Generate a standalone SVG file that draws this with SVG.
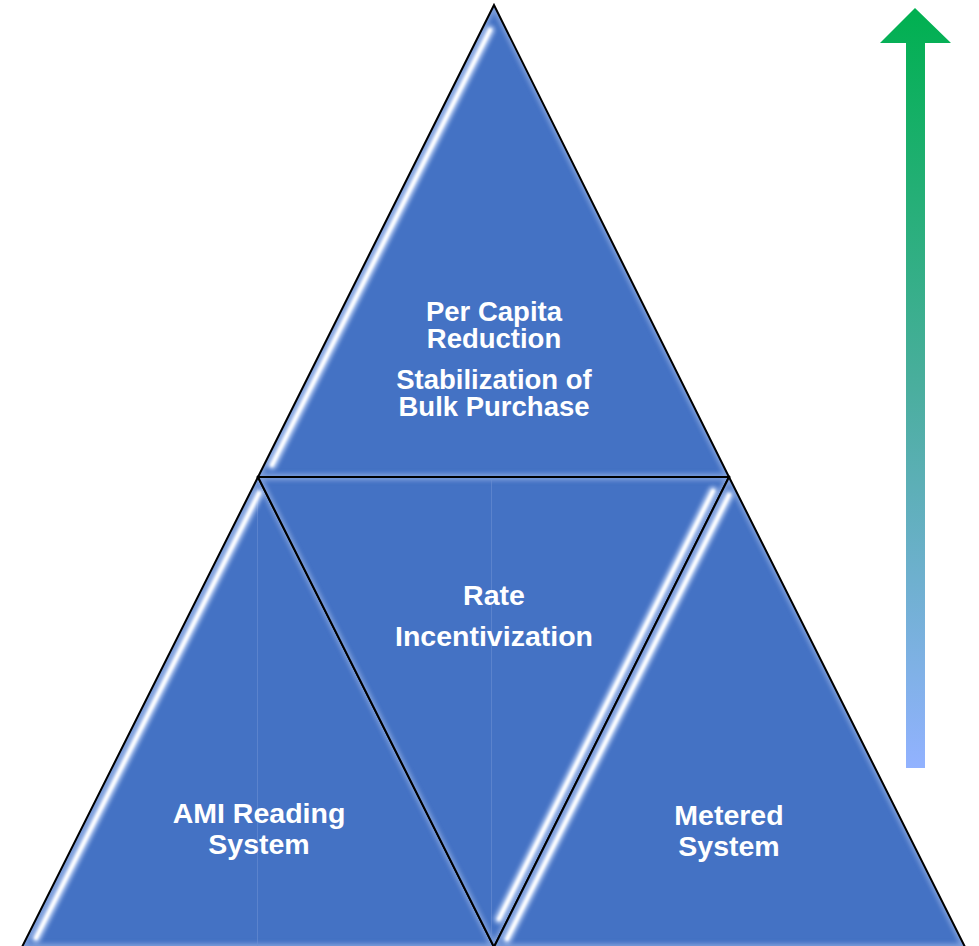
<svg xmlns="http://www.w3.org/2000/svg" width="979" height="946" viewBox="0 0 979 946">
  <defs>
    <style>
      .tri { fill: #4472c4; }
      .edge { fill: none; stroke: #000; stroke-width: 2; stroke-linejoin: miter; }
      .glow { fill: none; stroke: #a9c0ec; stroke-width: 7; opacity: 0.55; filter: url(#soft2); }
      .hl-outer { fill: none; stroke: #d6e4ff; stroke-width: 9; stroke-linecap: round; opacity: 0.85; filter: url(#soft2); }
      .hl-inner { fill: none; stroke: #ffffff; stroke-width: 3.5; stroke-linecap: round; filter: url(#soft1); }
      .seam { stroke: #6b8fd3; stroke-width: 1; opacity: 0.6; }
      .lbl { font-family: "Liberation Sans", Arial, sans-serif; font-weight: bold; fill: #ffffff; text-anchor: middle; }
    </style>
    <filter id="soft1" x="-20%" y="-20%" width="140%" height="140%">
      <feGaussianBlur stdDeviation="0.9"/>
    </filter>
    <filter id="soft2" x="-20%" y="-20%" width="140%" height="140%">
      <feGaussianBlur stdDeviation="2"/>
    </filter>
    <linearGradient id="arrowGrad" x1="0" y1="8" x2="0" y2="768" gradientUnits="userSpaceOnUse">
      <stop offset="0" stop-color="#00b050"/>
      <stop offset="0.5" stop-color="#4aae9e"/>
      <stop offset="1" stop-color="#92b2ff"/>
    </linearGradient>
    <clipPath id="cTop"><polygon points="494,5 258,477 729,477"/></clipPath>
    <clipPath id="cLeft"><polygon points="258,477 22,947 494,947"/></clipPath>
    <clipPath id="cMid"><polygon points="258,477 729,477 494,947"/></clipPath>
    <clipPath id="cRight"><polygon points="729,477 494,947 965,947"/></clipPath>
  </defs>

  <rect width="979" height="946" fill="#ffffff"/>

  <g id="node-top">
    <polygon class="tri" points="494,5 258,477 729,477"/>
    <g clip-path="url(#cTop)"><polygon class="glow" points="494,5 258,477 729,477"/></g>
    <line class="hl-outer" x1="490" y1="30" x2="272" y2="465"/>
    <line class="hl-inner" x1="490" y1="30" x2="272" y2="465"/>
    <polygon class="edge" points="494,5 258,477 729,477"/>
    <text class="lbl" font-size="27.5" x="494" y="321">Per Capita</text>
    <text class="lbl" font-size="27.5" x="494" y="348">Reduction</text>
    <text class="lbl" font-size="27.5" x="494" y="389">Stabilization of</text>
    <text class="lbl" font-size="27.5" x="494" y="416">Bulk Purchase</text>
  </g>

  <g id="node-left">
    <polygon class="tri" points="258,477 22,947 494,947"/>
    <g clip-path="url(#cLeft)"><polygon class="glow" points="258,477 22,947 494,947"/></g>
    <line class="seam" x1="257.5" y1="480" x2="257.5" y2="946"/>
    <line class="hl-outer" x1="259" y1="493" x2="36" y2="938"/>
    <line class="hl-inner" x1="259" y1="493" x2="36" y2="938"/>
    <polygon class="edge" points="258,477 22,947 494,947"/>
    <text class="lbl" font-size="28.5" x="259" y="823">AMI Reading</text>
    <text class="lbl" font-size="28.5" x="259" y="854">System</text>
  </g>

  <g id="node-middle">
    <polygon class="tri" points="258,477 729,477 494,947"/>
    <g clip-path="url(#cMid)"><polygon class="glow" points="258,477 729,477 494,947"/></g>
    <line class="seam" x1="491.5" y1="480" x2="491.5" y2="940"/>
    <line class="hl-outer" x1="713" y1="491" x2="499" y2="919"/>
    <line class="hl-inner" x1="713" y1="491" x2="499" y2="919"/>
    <polygon class="edge" points="258,477 729,477 494,947"/>
    <text class="lbl" font-size="28.5" x="494" y="605">Rate</text>
    <text class="lbl" font-size="28.5" x="494" y="646">Incentivization</text>
  </g>

  <g id="node-right">
    <polygon class="tri" points="729,477 494,947 965,947"/>
    <g clip-path="url(#cRight)"><polygon class="glow" points="729,477 494,947 965,947"/></g>
    <line class="hl-outer" x1="729" y1="495" x2="507" y2="939"/>
    <line class="hl-inner" x1="729" y1="495" x2="507" y2="939"/>
    <polygon class="edge" points="729,477 494,947 965,947"/>
    <text class="lbl" font-size="28.5" x="729" y="825">Metered</text>
    <text class="lbl" font-size="28.5" x="729" y="856">System</text>
  </g>

  <g id="connectors">
    <polygon id="arrow" points="915,8 951,43 925,43 925,768 906,768 906,43 880,43" fill="url(#arrowGrad)"/>
  </g>
</svg>
